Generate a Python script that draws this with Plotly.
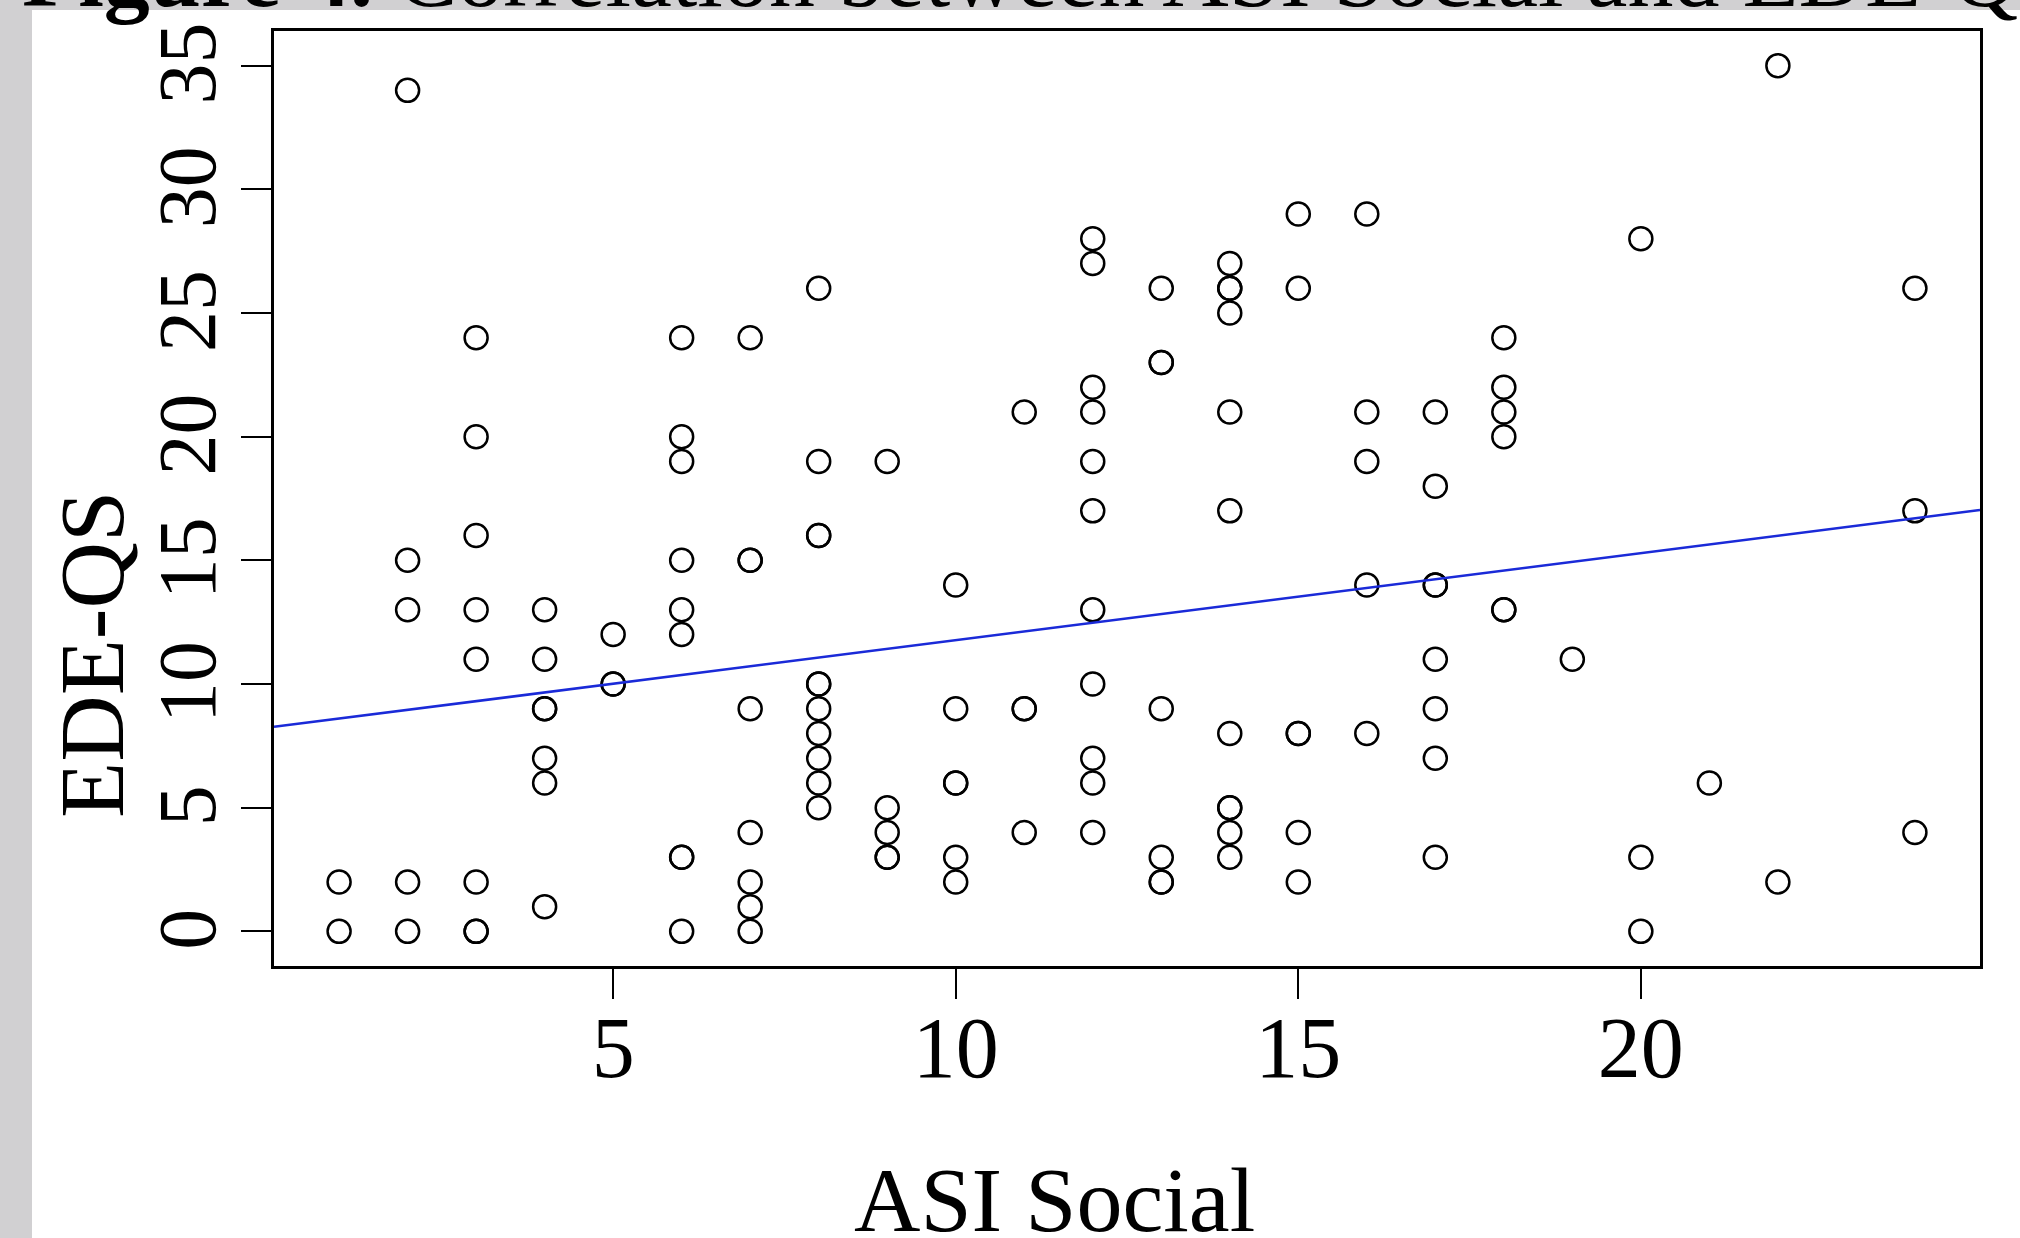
import plotly.graph_objects as go

# ---- data ----
asi_social = (
    [1, 1]
    + [2] * 5
    + [3] * 8
    + [4] * 7
    + [5] * 3
    + [6] * 9
    + [7] * 8
    + [8] * 11
    + [9] * 5
    + [10] * 6
    + [11] * 4
    + [12] * 11
    + [13] * 7
    + [14] * 11
    + [15] * 6
    + [16] * 5
    + [17] * 8
    + [18] * 6
    + [19]
    + [20] * 3
    + [21]
    + [22] * 2
    + [24] * 3
)
ede_qs = [
    2, 0,
    34, 15, 13, 2, 0,
    24, 20, 16, 13, 11, 2, 0, 0,
    13, 11, 9, 9, 7, 6, 1,
    12, 10, 10,
    24, 20, 19, 15, 13, 12, 3, 3, 0,
    24, 15, 15, 9, 4, 2, 1, 0,
    26, 19, 16, 16, 10, 10, 9, 8, 7, 6, 5,
    19, 5, 4, 3, 3,
    14, 9, 6, 6, 3, 2,
    21, 9, 9, 4,
    28, 27, 22, 21, 19, 17, 13, 10, 7, 6, 4,
    26, 23, 23, 9, 3, 2, 2,
    27, 26, 26, 25, 21, 17, 8, 5, 5, 4, 3,
    29, 26, 8, 8, 4, 2,
    29, 21, 19, 14, 8,
    21, 18, 14, 14, 11, 9, 7, 3,
    24, 22, 21, 20, 13, 13,
    11,
    28, 3, 0,
    6,
    35, 2,
    26, 17, 4,
]
fit_intercept = 8.25
fit_slope = 0.352

x_ticks = [5, 10, 15, 20]
y_ticks = [0, 5, 10, 15, 20, 25, 30, 35]
x_range = [0.05, 24.95]
y_range = [-1.4, 36.4]

title_text = "<b>Figure 4.</b> Correlation between ASI Social and EDE-QS"
x_title = "ASI Social"
y_title = "EDE-QS"

# ---- layout geometry (pixels) ----
W, H = 2020, 1238
L, R, T, B = 274, 40, 31, 272
pw, ph = W - L - R, H - T - B


def px_x(p):
    return (p - L) / pw


def px_y(p):
    return (H - B - p) / ph


FONT = "Liberation Serif"

fig = go.Figure()
fig.add_trace(
    go.Scatter(
        x=asi_social,
        y=ede_qs,
        mode="markers",
        marker=dict(symbol="circle-open", size=23, color="black", line=dict(width=2.5)),
        showlegend=False,
        hoverinfo="x+y",
    )
)
fig.add_trace(
    go.Scatter(
        x=x_range,
        y=[fit_intercept + fit_slope * v for v in x_range],
        mode="lines",
        line=dict(color="#1a2ad8", width=2.5),
        showlegend=False,
        hoverinfo="skip",
    )
)

fig.update_layout(
    width=W,
    height=H,
    margin=dict(l=L, r=R, t=T, b=B, pad=0, autoexpand=False),
    paper_bgcolor="#d1d0d2",
    plot_bgcolor="white",
    font=dict(family=FONT, color="black"),
    xaxis=dict(
        range=x_range,
        tickvals=x_ticks,
        ticktext=[str(v) for v in x_ticks],
        ticks="outside",
        ticklen=30,
        tickwidth=2,
        tickcolor="black",
        showline=True,
        linecolor="black",
        linewidth=2.5,
        mirror=True,
        showgrid=False,
        zeroline=False,
        automargin=False,
        tickfont=dict(family=FONT, size=86, color="black"),
        ticklabelstandoff=-25,
    ),
    yaxis=dict(
        range=y_range,
        tickvals=y_ticks,
        ticktext=[str(v) + "\u00a0" for v in y_ticks],
        ticks="outside",
        ticklen=30,
        tickwidth=2,
        tickcolor="black",
        tickangle=-90,
        showline=True,
        linecolor="black",
        linewidth=2.5,
        mirror=True,
        showgrid=False,
        zeroline=False,
        automargin=False,
        tickfont=dict(family=FONT, size=82, color="black"),
        ticklabelstandoff=-7,
    ),
    shapes=[
        dict(
            type="rect",
            xref="paper",
            yref="paper",
            x0=px_x(32),
            x1=px_x(W + 50),
            y0=px_y(H + 50),
            y1=px_y(10),
            fillcolor="white",
            line=dict(width=0),
            layer="below",
        )
    ],
    annotations=[
        dict(
            text=x_title,
            xref="paper",
            yref="paper",
            x=px_x(1054),
            y=px_y(1231 - 0.3375 * 92),
            xanchor="center",
            yanchor="middle",
            showarrow=False,
            font=dict(family=FONT, size=92, color="black"),
        ),
        dict(
            text=y_title,
            xref="paper",
            yref="paper",
            x=px_x(92),
            y=px_y(655),
            xanchor="center",
            yanchor="middle",
            textangle=-90,
            showarrow=False,
            font=dict(family=FONT, size=92, color="black"),
        ),
        dict(
            text=title_text,
            xref="paper",
            yref="paper",
            x=px_x(20),
            y=px_y(6 - 0.3375 * 92),
            xanchor="left",
            yanchor="middle",
            showarrow=False,
            font=dict(family=FONT, size=92, color="black"),
        ),
    ],
)

fig.write_html("out.html")
